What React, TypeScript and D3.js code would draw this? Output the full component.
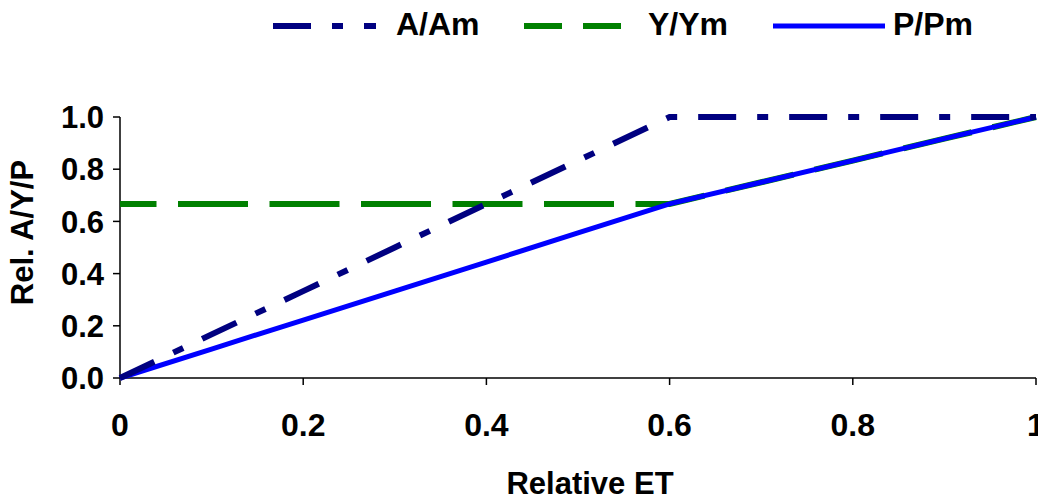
import React from "react";
import * as d3 from "d3";

const relET = [0, 0.1, 0.2, 0.3, 0.4, 0.5, 0.6, 0.7, 0.8, 0.9, 1.0];
const aAm = [0, 0.167, 0.333, 0.5, 0.667, 0.833, 1.0, 1.0, 1.0, 1.0, 1.0];
const yYm = [0.667, 0.667, 0.667, 0.667, 0.667, 0.667, 0.667, 0.75, 0.833, 0.917, 1.0];
const pPm = [0, 0.111, 0.222, 0.333, 0.444, 0.556, 0.667, 0.75, 0.833, 0.917, 1.0];
const xTicks = [0, 0.2, 0.4, 0.6, 0.8, 1];
const xTickLabels = ["0", "0.2", "0.4", "0.6", "0.8", "1"];
const yTicks = [0, 0.2, 0.4, 0.6, 0.8, 1.0];
const yTickLabels = ["0.0", "0.2", "0.4", "0.6", "0.8", "1.0"];
const seriesNames = ["A/Am", "Y/Ym", "P/Pm"];

const W = 1038;
const H = 497;
const font = "'Liberation Sans', Arial, sans-serif";

export default function App() {
  const x = d3.scaleLinear().domain([0, 1]).range([120, 1036]);
  const y = d3.scaleLinear().domain([0, 1]).range([378, 117]);
  const line = d3
    .line<number>()
    .x((_, i) => x(relET[i]))
    .y((d) => y(d));

  const legendItems = [
    { name: seriesNames[0], color: "#000080", dash: "38 21 11 21", x1: 273, x2: 376, tx: 396, w: 6 },
    { name: seriesNames[1], color: "#008000", dash: "38 21", x1: 524, x2: 623, tx: 648, w: 6 },
    { name: seriesNames[2], color: "#0000FF", dash: undefined, x1: 773, x2: 885, tx: 893, w: 5 },
  ];

  return (
    <svg width={W} height={H} style={{ position: "absolute", left: 0, top: 0, background: "#fff" }}>
      <rect x={0} y={0} width={W} height={H} fill="#fff" />
      {/* legend */}
      {legendItems.map((it) => (
        <g key={it.name}>
          <line x1={it.x1} x2={it.x2} y1={26} y2={26} stroke={it.color} strokeWidth={it.w} strokeDasharray={it.dash} />
          <text x={it.tx} y={35} fontFamily={font} fontWeight="bold" fontSize={32} fill="#000">
            {it.name}
          </text>
        </g>
      ))}

      {/* axes */}
      <line x1={x(0)} x2={x(0)} y1={y(1)} y2={y(0)} stroke="#000" strokeWidth={1.5} />
      <line x1={x(0)} x2={x(1)} y1={y(0)} y2={y(0)} stroke="#000" strokeWidth={1.5} />
      {yTicks.map((t, i) => (
        <g key={"y" + i}>
          <line x1={x(0) - 7} x2={x(0)} y1={y(t)} y2={y(t)} stroke="#000" strokeWidth={1.5} />
          <text x={104} y={y(t)} dy="0.36em" textAnchor="end" fontFamily={font} fontWeight="bold" fontSize={31}>
            {yTickLabels[i]}
          </text>
        </g>
      ))}
      {xTicks.map((t, i) => (
        <g key={"x" + i}>
          <line x1={x(t)} x2={x(t)} y1={y(0)} y2={y(0) + 7} stroke="#000" strokeWidth={1.5} />
          <text x={x(t)} y={436} textAnchor="middle" fontFamily={font} fontWeight="bold" fontSize={32}>
            {xTickLabels[i]}
          </text>
        </g>
      ))}

      {/* series */}
      <path d={line(yYm) || ""} fill="none" stroke="#008000" strokeWidth={6} strokeDasharray="70 21.5" strokeDashoffset={33.5} />
      <path d={line(pPm) || ""} fill="none" stroke="#0000FF" strokeWidth={5} />
      <path d={line(aAm) || ""} fill="none" stroke="#000080" strokeWidth={6} strokeDasharray="38 21 11 21" />

      {/* axis titles */}
      <text x={590} y={494} textAnchor="middle" fontFamily={font} fontWeight="bold" fontSize={31}>
        Relative ET
      </text>
      <text
        transform={`translate(33, ${(y(0) + y(1)) / 2 - 15}) rotate(-90)`}
        textAnchor="middle"
        fontFamily={font}
        fontWeight="bold"
        fontSize={31}
      >
        Rel. A/Y/P
      </text>
    </svg>
  );
}
